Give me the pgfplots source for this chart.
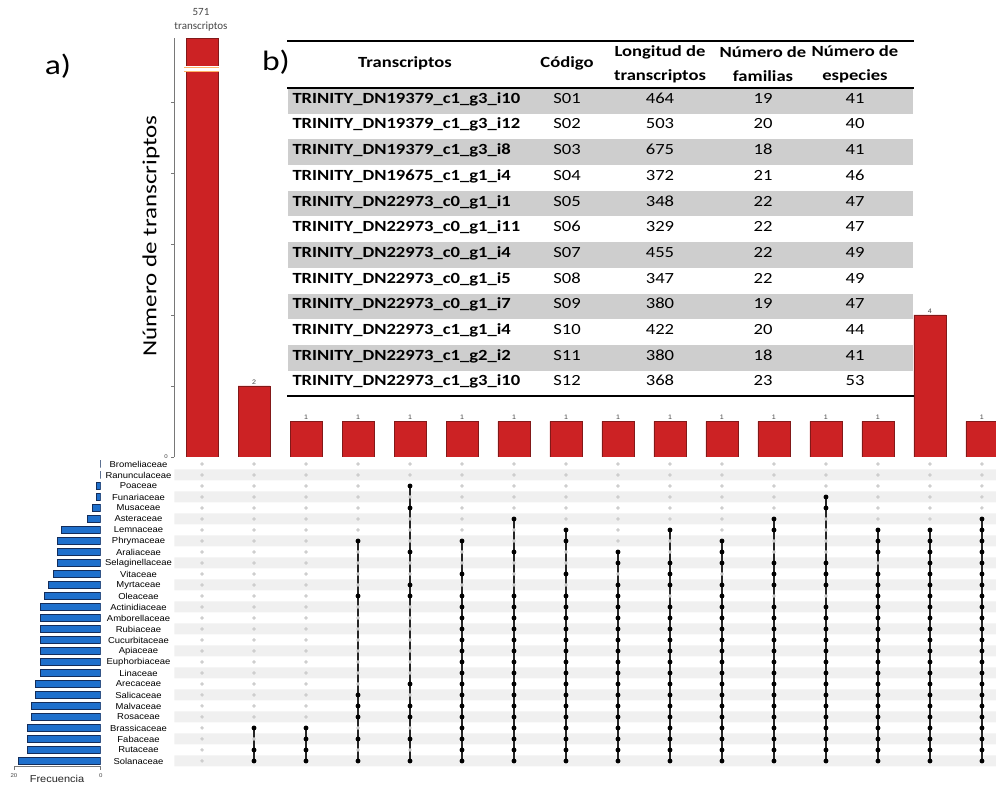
\documentclass[border=0pt]{standalone}
\usepackage{fontspec}
\setmainfont{Carlito}
\newfontfamily\tabfont[FakeStretch=1.2]{Carlito}
\newfontfamily\famfont[FakeStretch=1.1]{Liberation Sans}
\newfontfamily\lblfont[FakeStretch=1.25]{Carlito}
\usepackage{pgfplots}
\usepackage{pgfplotstable}
\pgfplotsset{compat=1.18}

\definecolor{barred}{RGB}{204,34,36}
\definecolor{barredd}{RGB}{130,25,25}
\definecolor{barblue}{RGB}{31,112,204}
\definecolor{barblued}{RGB}{20,45,90}
\definecolor{stripe}{RGB}{240,240,240}
\definecolor{dotgray}{RGB}{205,205,205}
\definecolor{rowgray}{RGB}{206,206,206}
\definecolor{axgray}{RGB}{120,120,120}
\definecolor{txtgray}{RGB}{70,70,70}

% family, set size, membership of the 16 intersections (1 = black dot)
\pgfplotstableread{
y fam freq c1 c2 c3 c4 c5 c6 c7 c8 c9 c10 c11 c12 c13 c14 c15 c16
1 Solanaceae 19 0 1 1 1 1 1 1 1 1 1 1 1 1 1 1 1
2 Rutaceae 17 0 1 1 0 0 1 1 1 1 1 1 1 1 1 1 1
3 Fabaceae 17 0 0 1 1 1 1 1 1 1 1 1 1 1 1 1 1
4 Brassicaceae 17 0 1 1 0 0 1 1 1 1 1 1 1 1 1 1 1
5 Rosaceae 16 0 0 0 1 1 1 1 1 1 1 1 1 1 1 1 1
6 Malvaceae 16 0 0 0 1 1 1 1 1 1 1 1 1 1 1 1 1
7 Salicaceae 15 0 0 0 1 0 1 1 1 1 1 1 1 1 1 1 1
8 Arecaceae 15 0 0 0 0 1 1 1 1 1 1 1 1 1 1 1 1
9 Linaceae 14 0 0 0 0 0 1 1 1 1 1 1 1 1 1 1 1
10 Euphorbiaceae 14 0 0 0 0 0 1 1 1 1 1 1 1 1 1 1 1
11 Apiaceae 14 0 0 0 0 0 1 1 1 1 1 1 1 1 1 1 1
12 Cucurbitaceae 14 0 0 0 0 0 1 1 1 1 1 1 1 1 1 1 1
13 Rubiaceae 14 0 0 0 0 0 1 1 1 1 1 1 1 1 1 1 1
14 Amborellaceae 14 0 0 0 0 0 1 1 1 1 1 1 1 1 1 1 1
15 Actinidiaceae 14 0 0 0 0 0 1 1 1 1 1 1 1 1 1 1 1
16 Oleaceae 13 0 0 0 1 1 1 1 1 1 0 1 0 0 1 1 1
17 Myrtaceae 12 0 0 0 0 1 0 0 0 1 1 1 1 1 1 1 1
18 Vitaceae 11 0 0 0 0 0 1 0 1 0 1 0 1 1 1 1 1
19 Selaginellaceae 10 0 0 0 0 0 0 0 0 1 1 1 1 1 0 1 1
20 Araliaceae 10 0 0 0 0 1 0 1 0 1 0 1 0 0 1 1 1
21 Phrymaceae 10 0 0 0 1 0 1 0 1 0 0 1 0 0 1 1 1
22 Lemnaceae 9 0 0 0 0 0 0 0 1 0 1 0 1 0 1 1 1
23 Asteraceae 3 0 0 0 0 0 0 1 0 0 0 0 1 0 0 0 1
24 Musaceae 2 0 0 0 0 1 0 0 0 0 0 0 0 1 0 0 0
25 Funariaceae 1 0 0 0 0 0 0 0 0 0 0 0 0 1 0 0 0
26 Poaceae 1 0 0 0 0 1 0 0 0 0 0 0 0 0 0 0 0
27 Ranunculaceae 0 0 0 0 0 0 0 0 0 0 0 0 0 0 0 0 0
28 Bromeliaceae 0 0 0 0 0 0 0 0 0 0 0 0 0 0 0 0 0
}\settab

% vertical connector of each intersection: from its highest to its lowest member
\pgfplotstableread{
x y
2 4
2 1
nan nan
3 4
3 1
nan nan
4 21
4 1
nan nan
5 26
5 1
nan nan
6 21
6 1
nan nan
7 23
7 1
nan nan
8 22
8 1
nan nan
9 20
9 1
nan nan
10 22
10 1
nan nan
11 21
11 1
nan nan
12 23
12 1
nan nan
13 25
13 1
nan nan
14 22
14 1
nan nan
15 22
15 1
nan nan
16 23
16 1
}\segtab

\pgfplotstableread{
x n
1 571
2 2
3 1
4 1
5 1
6 1
7 1
8 1
9 1
10 1
11 1
12 1
13 1
14 1
15 4
16 1
}\inttab

\begin{document}
\begin{tikzpicture}[x=1pt,y=1pt]
\path[use as bounding box] (0,0) rectangle (996,787);

% ---------- intersection size bars ----------
\begin{axis}[
  at={(174.3pt,330pt)}, anchor=south west, scale only axis,
  width=821.7pt, height=419pt,
  xmin=0.467, xmax=16.27, ymin=0, ymax=11.8,
  axis x line=none, axis y line=left,
  axis line style={draw=axgray,-, line width=0.6pt},
  ytick={0,2,4,6,8,10}, yticklabels={0,,,,,},
  ytick align=outside, major tick length=3pt,
  tick style={draw=axgray, line width=0.5pt},
  yticklabel style={font=\famfont\fontsize{5.5}{6}\selectfont, text=txtgray},
  /pgf/number format/assume math mode=true,
  clip mode=individual,
]
% the 571 bar is cut at the top of the axis (broken bar)
\addplot[ybar, bar width=32pt, bar shift=0pt, fill=barred, draw=barredd, line width=0.4pt,
  restrict x to domain=1:1, restrict y to domain*=0:11.8] table[x=x,y=n]{\inttab};
\addplot[ybar, bar width=32pt, bar shift=0pt, fill=barred, draw=barredd, line width=0.4pt,
  restrict x to domain=2:16,
  nodes near coords,
  every node near coord/.append style={font=\famfont\fontsize{6.5}{7}\selectfont, text=txtgray, inner sep=1.5pt}]
  table[x=x,y=n]{\inttab};
\end{axis}

% axis break on the 571 bar
\fill[white] (184,787-72.5) rectangle (219,787-66.5);
\draw[orange!60, line width=0.8pt] (184,787-67.3) -- (219,787-67.3);
\draw[orange!60, line width=0.8pt] (184,787-71.7) -- (219,787-71.7);
\node[font=\fontsize{11}{12}\selectfont, text=txtgray] at (201,787-12) {571};
\node[font=\fontsize{11}{12}\selectfont, text=txtgray] at (201,787-27) {transcriptos};

% ---------- set size bars ----------
\begin{axis}[
  at={(14pt,20.3pt)}, anchor=south west, scale only axis,
  width=86.7pt, height=309.3pt,
  x dir=reverse, xmin=0, xmax=20, ymin=0.48, ymax=28.6,
  axis x line=bottom, axis y line=right,
  x axis line style={draw=axgray,-, line width=0.6pt},
  y axis line style={draw=none},
  xtick={0,20}, xtick align=outside, major tick length=3pt,
  xtick style={draw=axgray, line width=0.5pt},
  xticklabel style={font=\famfont\fontsize{5.5}{6}\selectfont, text=txtgray},
  /pgf/number format/assume math mode=true,
  ytick={1,...,28}, yticklabels from table={\settab}{fam},
  ytick style={draw=none},
  yticklabel style={anchor=center, xshift=36.3pt, font=\famfont\fontsize{8.6}{9}\selectfont, text=black},
]
\addplot[xbar, bar width=7.5pt, bar shift=0pt, fill=barblue, draw=barblued, line width=0.5pt]
  table[x=freq,y=y]{\settab};
\end{axis}
\node[font=\famfont\fontsize{10}{11}\selectfont, text=black!85] at (57,787-779) {Frecuencia};

% ---------- matrix ----------
\begin{axis}[
  at={(174.3pt,20.3pt)}, anchor=south west, scale only axis,
  width=821.7pt, height=309.3pt,
  xmin=0.467, xmax=16.27, ymin=0.48, ymax=28.6,
  axis lines=none,
]
\addplot[xbar, bar width=11pt, bar shift=0pt, fill=stripe, draw=none]
  coordinates {(17,1) (17,3) (17,5) (17,7) (17,9) (17,11) (17,13) (17,15) (17,17) (17,19) (17,21) (17,23) (17,25) (17,27)};
\pgfplotsinvokeforeach{1,...,16}{
  \addplot[only marks, mark=*, mark size=1.5pt, color=dotgray] table[x expr=#1, y=y]{\settab};
}
\addplot[no marks, color=black!85, line width=1.4pt, unbounded coords=jump] table[x=x,y=y]{\segtab};
\pgfplotsinvokeforeach{2,...,16}{
  \addplot[only marks, mark=*, mark size=2.2pt, color=black,
    restrict expr to domain={\thisrow{c#1}}{0.5:1.5}] table[x expr=#1, y=y]{\settab};
}
\end{axis}

% ---------- table ----------
\foreach \i in {1,3,...,11}{
  \pgfmathsetmacro\yt{787-88-25.7*(\i-1)}
  \fill[rowgray] (288,\yt) rectangle (913,\yt-25.7);
}
\draw[line width=2pt] (287,787-41) -- (914,787-41);
\draw[line width=2pt] (287,787-88) -- (914,787-88);
\draw[line width=2pt] (287,787-396.5) -- (914,787-396.5);

\begin{scope}[every node/.style={font=\tabfont\bfseries\fontsize{15.5}{24}\selectfont, align=center}]
\node at (405,787-63) {Transcriptos};
\node at (567,787-63) {Código};
\node at (660,787-64.5) {Longitud de\\transcriptos};
\node at (763,787-64.5) {Número de\\familias};
\node at (855,787-64.5) {Número de\\especies};
\end{scope}

\foreach \i/\nm/\cd/\lo/\fa/\es in {
 1/TRINITY\_DN19379\_c1\_g3\_i10/S01/464/19/41,
 2/TRINITY\_DN19379\_c1\_g3\_i12/S02/503/20/40,
 3/TRINITY\_DN19379\_c1\_g3\_i8/S03/675/18/41,
 4/TRINITY\_DN19675\_c1\_g1\_i4/S04/372/21/46,
 5/TRINITY\_DN22973\_c0\_g1\_i1/S05/348/22/47,
 6/TRINITY\_DN22973\_c0\_g1\_i11/S06/329/22/47,
 7/TRINITY\_DN22973\_c0\_g1\_i4/S07/455/22/49,
 8/TRINITY\_DN22973\_c0\_g1\_i5/S08/347/22/49,
 9/TRINITY\_DN22973\_c0\_g1\_i7/S09/380/19/47,
 10/TRINITY\_DN22973\_c1\_g1\_i4/S10/422/20/44,
 11/TRINITY\_DN22973\_c1\_g2\_i2/S11/380/18/41,
 12/TRINITY\_DN22973\_c1\_g3\_i10/S12/368/23/53}{
  \pgfmathsetmacro\yc{787-100.9-25.7*(\i-1)}
  \node[anchor=mid west, font=\tabfont\bfseries\fontsize{15.5}{18}\selectfont] at (289,\yc) {\nm};
  \node[anchor=mid, font=\tabfont\fontsize{15.5}{18}\selectfont] at (567,\yc) {\cd};
  \node[anchor=mid, font=\tabfont\fontsize{15.5}{18}\selectfont] at (660,\yc) {\lo};
  \node[anchor=mid, font=\tabfont\fontsize{15.5}{18}\selectfont] at (763,\yc) {\fa};
  \node[anchor=mid, font=\tabfont\fontsize{15.5}{18}\selectfont] at (855,\yc) {\es};
}

% ---------- labels ----------
\node[rotate=90, font=\lblfont\fontsize{20}{24}\selectfont] at (151,787-236) {Número de transcriptos};
\node[font=\tabfont\fontsize{28}{30}\selectfont] at (58,787-66) {a)};
\node[font=\tabfont\fontsize{28}{30}\selectfont] at (276,787-62) {b)};
\end{tikzpicture}
\end{document}
